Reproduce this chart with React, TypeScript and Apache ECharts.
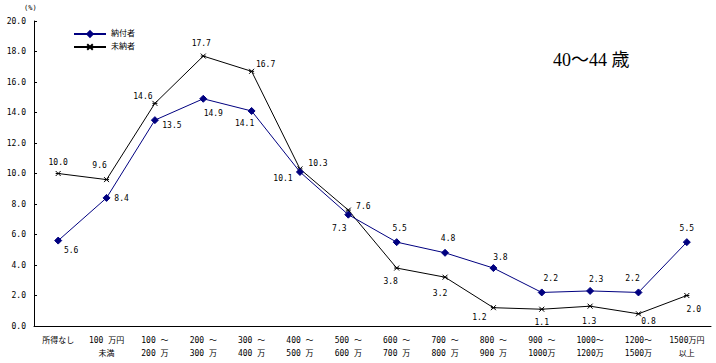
import React, { useEffect, useRef } from "react";
import * as echarts from "echarts";

const categories = [
  "所得なし",
  "100 万円\n未満",
  "100 ～\n200 万",
  "200 ～\n300 万",
  "300 ～\n400 万",
  "400 ～\n500 万",
  "500 ～\n600 万",
  "600 ～\n700 万",
  "700 ～\n800 万",
  "800 ～\n900 万",
  "900 ～\n1000万",
  "1000～\n1200万",
  "1200～\n1500万",
  "1500万円\n以上",
];

const paidName = "納付者";
const unpaidName = "未納者";

const paidValues = [5.6, 8.4, 13.5, 14.9, 14.1, 10.1, 7.3, 5.5, 4.8, 3.8, 2.2, 2.3, 2.2, 5.5];
const unpaidValues = [10.0, 9.6, 14.6, 17.7, 16.7, 10.3, 7.6, 3.8, 3.2, 1.2, 1.1, 1.3, 0.8, 2.0];

const yTickMin = 0;
const yTickMax = 20;
const yTickStep = 2;

// label placement offsets (dx, dy) from each point
const paidLabelOffsets = [
  [13, 10], [15, 1], [17, 5], [10, 15], [-7, 13], [-17, 7], [-9, 14],
  [3, -14], [3, -14], [7, -11], [9, -14], [6, -11], [-6, -14], [0, -14],
];
const unpaidLabelOffsets = [
  [0, -11], [-7, -14], [-12, -7], [-2, -13], [14, -7], [18, -5], [15, -4],
  [-6, 13], [-5, 16], [-14, 10], [0, 13], [-1, 15], [10, 8], [7, 14],
];

const monoFont = "'DejaVu Sans Mono', 'Noto Sans CJK JP', monospace";

export default function App() {
  const ref = useRef<HTMLDivElement>(null);

  useEffect(() => {
    if (!ref.current) return;
    const chart = echarts.init(ref.current, undefined, { renderer: "svg" });

    const mkData = (vals: number[], offs: number[][]) =>
      vals.map((v, i) => ({
        value: v,
        label: { offset: offs[i] },
      }));

    const labelBase = {
      show: true,
      position: "inside" as const,
      color: "#000",
      fontSize: 8,
      fontFamily: monoFont,
      formatter: (p: any) => Number(p.value).toFixed(1),
    };

    chart.setOption({
      animation: false,
      backgroundColor: "#fff",
      grid: { left: 34, right: 5, top: 21, bottom: 37, containLabel: false },
      legend: {
        orient: "vertical",
        left: 68,
        top: 25,
        itemWidth: 32,
        itemHeight: 7,
        itemGap: 5,
        textStyle: { fontSize: 8, fontFamily: monoFont, color: "#000" },
        data: [paidName, unpaidName],
      },
      graphic: [
        {
          type: "text",
          left: 24,
          top: 4,
          style: { text: "(%)", fontSize: 7, fontFamily: monoFont, fill: "#000" },
        },
        {
          type: "text",
          left: 553,
          top: 51,
          style: {
            text: "40～44 歳",
            fontSize: 18,
            fontFamily: "'Liberation Serif', 'Noto Sans CJK JP', serif",
            fill: "#000",
          },
        },
      ],
      xAxis: {
        type: "category",
        data: categories,
        boundaryGap: true,
        axisLine: { lineStyle: { color: "#000", width: 1 } },
        axisTick: { inside: true, length: 3, lineStyle: { color: "#000" } },
        axisLabel: {
          interval: 0,
          margin: 8,
          fontSize: 8,
          lineHeight: 13,
          fontFamily: monoFont,
          color: "#000",
        },
      },
      yAxis: {
        type: "value",
        min: yTickMin,
        max: yTickMax,
        interval: yTickStep,
        splitLine: { show: false },
        axisLine: { show: true, lineStyle: { color: "#000", width: 1 } },
        axisTick: { show: true, inside: true, length: 3, lineStyle: { color: "#000" } },
        axisLabel: {
          margin: 8,
          fontSize: 8,
          fontFamily: monoFont,
          color: "#000",
          formatter: (v: number) => v.toFixed(1),
        },
      },
      series: [
        {
          name: paidName,
          type: "line",
          data: mkData(paidValues, paidLabelOffsets),
          symbol: "diamond",
          symbolSize: 7,
          lineStyle: { color: "#000080", width: 1 },
          itemStyle: { color: "#000080", borderColor: "#000080", borderWidth: 1 },
          label: labelBase,
          z: 3,
        },
        {
          name: unpaidName,
          type: "line",
          data: mkData(unpaidValues, unpaidLabelOffsets),
          symbol: "path://M0,0L8,8M8,0L0,8M0,4L8,4",
          symbolSize: 5,
          lineStyle: { color: "#000", width: 1 },
          itemStyle: { color: "#000", borderColor: "#000", borderWidth: 1 },
          label: labelBase,
          z: 2,
        },
      ],
    });

    return () => chart.dispose();
  }, []);

  return (
    <div
      ref={ref}
      style={{ position: "fixed", left: 0, top: 0, width: 716, height: 363, background: "#fff" }}
    />
  );
}
